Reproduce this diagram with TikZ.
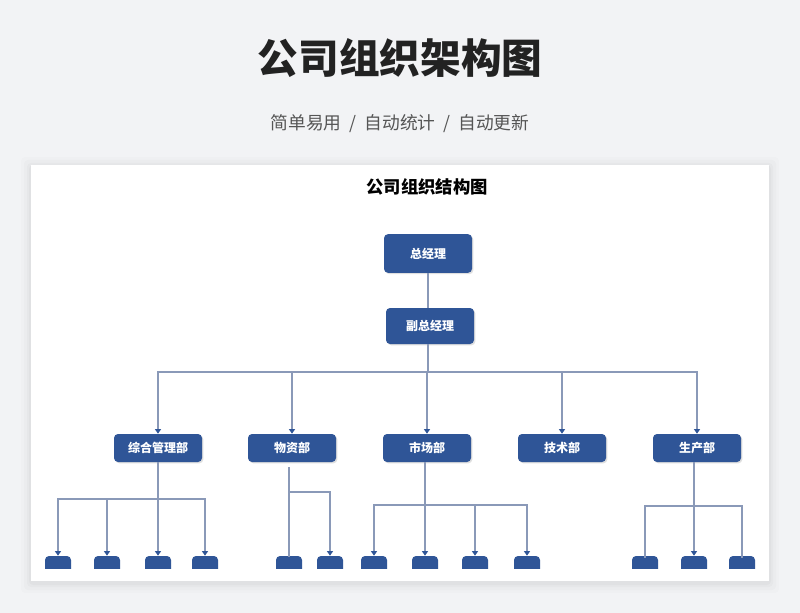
\documentclass[tikz,border=0pt]{standalone}
\usepackage{fontspec}
\setmainfont{Noto Sans CJK SC}
\usepackage{xcolor}
\usepackage{tikz}
\usetikzlibrary{arrows.meta,shadows}
\definecolor{bg}{HTML}{F2F3F5}
\definecolor{card}{HTML}{FFFFFF}
\definecolor{ink}{HTML}{222222}
\definecolor{muted}{HTML}{555555}
\definecolor{boxblue}{HTML}{2F5597}
\definecolor{wire}{HTML}{8A99B8}
\tikzset{
  box/.style={fill=boxblue, rounded corners=3pt, text=white, font=\bfseries\fontsize{9}{11}\selectfont,
    minimum width=66pt, minimum height=21pt, inner sep=0pt,
    drop shadow={opacity=0.25, shadow xshift=1pt, shadow yshift=-1pt}},
  leaf/.style={fill=boxblue, rounded corners=3pt, minimum width=19.5pt, minimum height=18pt, inner sep=0pt},
  wirel/.style={draw=wire, line width=0.8pt},
  arr/.style={wirel, -{Triangle[width=4.5pt,length=3.5pt,color=boxblue]}}
}
\begin{document}
\begin{tikzpicture}[x=0.75pt,y=-0.75pt]
  \fill[bg] (0,0) rectangle (800,613);
  \useasboundingbox (0,0) rectangle (800,613);
  % card and its soft shadow
  \foreach \s/\o in {10/0.012,7/0.015,4/0.02,2/0.025}{
    \fill[black,opacity=\o,rounded corners=3pt] (31-\s,165-\s+2) rectangle (769+\s,581+\s+2);
  }
  \fill[card] (31,165) rectangle (769,581);
  % titles
  \node[text=ink, font=\bfseries\fontsize{30.5}{34}\selectfont] (title) at (400,58) {公司组织架构图};
  \node[text=muted, font=\fontsize{13.3}{15}\selectfont] (sub) at (400,124) {简单易用\ \ /\ \ 自动统计\ \ /\ \ 自动更新};
  \node[text=black, font=\bfseries\fontsize{13}{15}\selectfont] (chart) at (427,187) {公司组织结构图};
  % top of the tree
  \node[box, minimum height=29pt] (zjl) at (428,253.5) {总经理};
  \node[box, minimum height=27pt] (fzjl) at (430,326) {副总经理};
  \node[box] (zh) at (158,448) {综合管理部};
  \node[box] (wz) at (292,448) {物资部};
  \node[box] (sc) at (427,448) {市场部};
  \node[box] (js) at (562,448) {技术部};
  \node[box] (sp) at (697,448) {生产部};
  \coordinate (busA) at (428,372);
  \coordinate (lvzh) at (0,499);
  \coordinate (lvwz) at (0,492);
  \coordinate (lvsc) at (0,505);
  \coordinate (lvsp) at (0,506);
  % bottom row, cut off by the card
  \begin{scope}
    \clip (31,165) rectangle (769,568);
    \foreach \n/\x in {zh1/58,zh2/107,zh3/158,zh4/205,
                       wz1/289,wz2/330,
                       sc1/374,sc2/425,sc3/475,sc4/527,
                       sp1/645,sp2/694,sp3/742}{
      \node[leaf] (\n) at (\x,568) {};
    }
  \end{scope}
  % connectors
  \draw[wirel] (zjl.south) -- (fzjl.north -| zjl.south);
  \draw[wirel] (fzjl.south -| zjl.south) -- (busA);
  \foreach \d in {zh,wz,sc,js,sp}{
    \draw[arr] (busA) -| (\d.north);
  }
  \draw[arr] (zh.south) -- (zh3.north);
  \foreach \n in {zh1,zh2,zh4}{
    \draw[arr] (zh3.north |- lvzh) -| (\n.north);
  }
  \draw[wirel] (wz1.north |- wz.south) ++(0,5) -- ([yshift=-1pt]wz1.north);
  \draw[arr] (wz1.north |- lvwz) -| (wz2.north);
  \draw[arr] (sc2.north |- sc.south) -- (sc2.north);
  \foreach \n in {sc1,sc3,sc4}{
    \draw[arr] (sc2.north |- lvsc) -| (\n.north);
  }
  \draw[arr] (sp2.north |- sp.south) -- (sp2.north);
  \foreach \n in {sp1,sp3}{
    \draw[wirel] (sp2.north |- lvsp) -| ([yshift=-2pt]\n.north);
  }
\end{tikzpicture}
\end{document}
